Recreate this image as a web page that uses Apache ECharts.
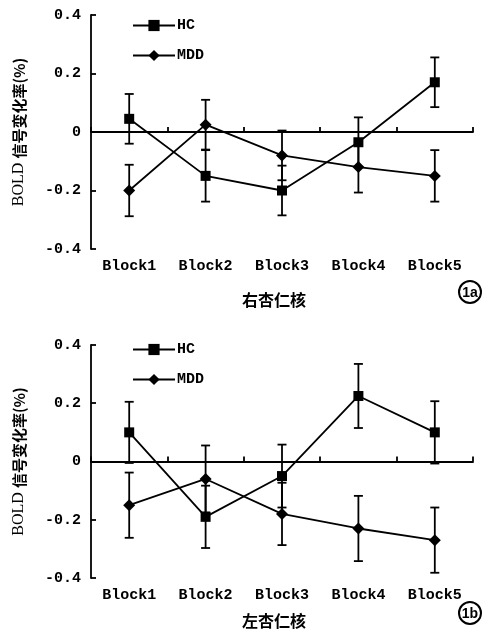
<!DOCTYPE html>
<html>
<head>
<meta charset="utf-8">
<script src="https://cdn.jsdelivr.net/npm/echarts@6/dist/echarts.min.js"></script>
<style>html,body{margin:0;padding:0;background:#fff;}#c{width:487px;height:630px;}</style>
</head>
<body>
<div id="c"></div>
<script>
const categories = ['Block1', 'Block2', 'Block3', 'Block4', 'Block5'];
const yTicks = [-0.4, -0.2, 0, 0.2, 0.4];
// Panel 1a (右杏仁核)
const hcA = [0.045, -0.15, -0.2, -0.035, 0.17];
const hcAErr = [0.085, 0.088, 0.085, 0.085, 0.085];
const mddA = [-0.2, 0.025, -0.08, -0.12, -0.15];
const mddAErr = [0.088, 0.085, 0.085, 0.087, 0.088];
// Panel 1b (左杏仁核)
const hcB = [0.1, -0.19, -0.05, 0.225, 0.1];
const hcBErr = [0.105, 0.107, 0.108, 0.11, 0.107];
const mddB = [-0.15, -0.06, -0.18, -0.23, -0.27];
const mddBErr = [0.112, 0.115, 0.107, 0.112, 0.112];
const panelNames = ['右杏仁核', '左杏仁核'];
const panelTags = ['1a', '1b'];

const MONO = '"Liberation Mono", "DejaVu Sans Mono", monospace';
const CJK = '"Noto Sans CJK SC", sans-serif';

const grids = [
  {left: 91, top: 15, width: 382, height: 234},
  {left: 91, top: 345, width: 382, height: 233}
];
const nameGaps = [43, 35];
const legendTops = [18, 342];

function errData(vals, errs) {
  return vals.map((v, i) => [i, v - errs[i], v + errs[i]]);
}
function errRender(params, api) {
  const x = api.value(0);
  const lo = api.coord([x, api.value(1)]);
  const hi = api.coord([x, api.value(2)]);
  const w = 4.5;
  const st = {stroke: '#000', lineWidth: 1.8};
  return {type: 'group', children: [
    {type: 'line', shape: {x1: hi[0], y1: hi[1], x2: lo[0], y2: lo[1]}, style: st},
    {type: 'line', shape: {x1: hi[0] - w, y1: hi[1], x2: hi[0] + w, y2: hi[1]}, style: st},
    {type: 'line', shape: {x1: lo[0] - w, y1: lo[1], x2: lo[0] + w, y2: lo[1]}, style: st}
  ]};
}

const xAxes = [], yAxes = [], series = [], legends = [], graphics = [];
const panels = [[hcA, hcAErr, mddA, mddAErr], [hcB, hcBErr, mddB, mddBErr]];

panels.forEach((p, g) => {
  const xi = xAxes.length;
  xAxes.push({
    type: 'category', gridIndex: g, data: categories, position: 'bottom',
    axisLine: {show: false, onZero: false}, axisTick: {show: false},
    axisLabel: {fontFamily: MONO, fontWeight: 'bold', fontSize: 15, color: '#000', margin: 10},
    name: panelNames[g], nameLocation: 'middle', nameGap: nameGaps[g],
    nameTextStyle: {fontFamily: CJK, fontWeight: 'bold', fontSize: 16, color: '#000', padding: [0, 16, 0, 0]}
  });
  xAxes.push({
    type: 'category', gridIndex: g, data: categories, position: 'bottom',
    axisLine: {show: true, onZero: true, lineStyle: {color: '#000', width: 1.8}},
    axisTick: {show: true, inside: true, length: 5, lineStyle: {color: '#000', width: 1.8}},
    axisLabel: {show: false}, splitLine: {show: false}
  });
  yAxes.push({
    type: 'value', gridIndex: g, min: yTicks[0], max: yTicks[yTicks.length - 1], interval: 0.2,
    axisLine: {show: true, onZero: false, lineStyle: {color: '#000', width: 1.8}},
    axisTick: {show: true, inside: true, length: 5, lineStyle: {color: '#000', width: 1.8}},
    splitLine: {show: false},
    axisLabel: {fontFamily: MONO, fontWeight: 'bold', fontSize: 15, color: '#000', margin: 10,
      formatter: v => (Math.abs(v) < 1e-9 ? '0' : v.toFixed(1))},
    name: '{a|BOLD }{b|信号变化率(%)}', nameLocation: 'middle', nameGap: 64,
    nameTextStyle: {color: '#000', rich: {
      a: {fontFamily: '"Liberation Serif", serif', fontSize: 16, color: '#000'},
      b: {fontFamily: CJK, fontWeight: 'bold', fontSize: 15, color: '#000'}
    }}
  });
  const [hc, hcE, mdd, mddE] = p;
  series.push({
    type: 'custom', name: 'errHC' + g, xAxisIndex: xi, yAxisIndex: g,
    renderItem: errRender, data: errData(hc, hcE), z: 1, silent: true
  });
  series.push({
    type: 'custom', name: 'errMDD' + g, xAxisIndex: xi, yAxisIndex: g,
    renderItem: errRender, data: errData(mdd, mddE), z: 1, silent: true
  });
  series.push({
    type: 'line', name: 'HC', xAxisIndex: xi, yAxisIndex: g, data: hc,
    symbol: 'rect', symbolSize: 10, z: 3,
    lineStyle: {color: '#000', width: 1.8}, itemStyle: {color: '#000'}
  });
  series.push({
    type: 'line', name: 'MDD', xAxisIndex: xi, yAxisIndex: g, data: mdd,
    symbol: 'diamond', symbolSize: 12, z: 3,
    lineStyle: {color: '#000', width: 1.8}, itemStyle: {color: '#000'}
  });
  legends.push({
    data: ['HC', 'MDD'], orient: 'vertical', left: 132, top: legendTops[g], padding: 0,
    itemWidth: 42, itemHeight: 14, itemGap: 15,
    textStyle: {fontFamily: MONO, fontWeight: 'bold', fontSize: 15, color: '#000', padding: [0, 0, 0, -3]},
    selectedMode: false
  });
  const cy = g === 0 ? 292 : 613;
  graphics.push({type: 'circle', shape: {cx: 470, cy: cy, r: 11}, style: {fill: 'none', stroke: '#000', lineWidth: 2}});
  graphics.push({type: 'text', x: 470, y: cy + 1, style: {text: panelTags[g], align: 'center', verticalAlign: 'middle',
    font: 'bold 14px "Liberation Sans", sans-serif', fill: '#000'}});
});

const chart = echarts.init(document.getElementById('c'));
chart.setOption({
  animation: false,
  backgroundColor: '#fff',
  grid: grids,
  xAxis: xAxes,
  yAxis: yAxes,
  legend: legends,
  series: series,
  graphic: graphics
});
</script>
</body>
</html>
